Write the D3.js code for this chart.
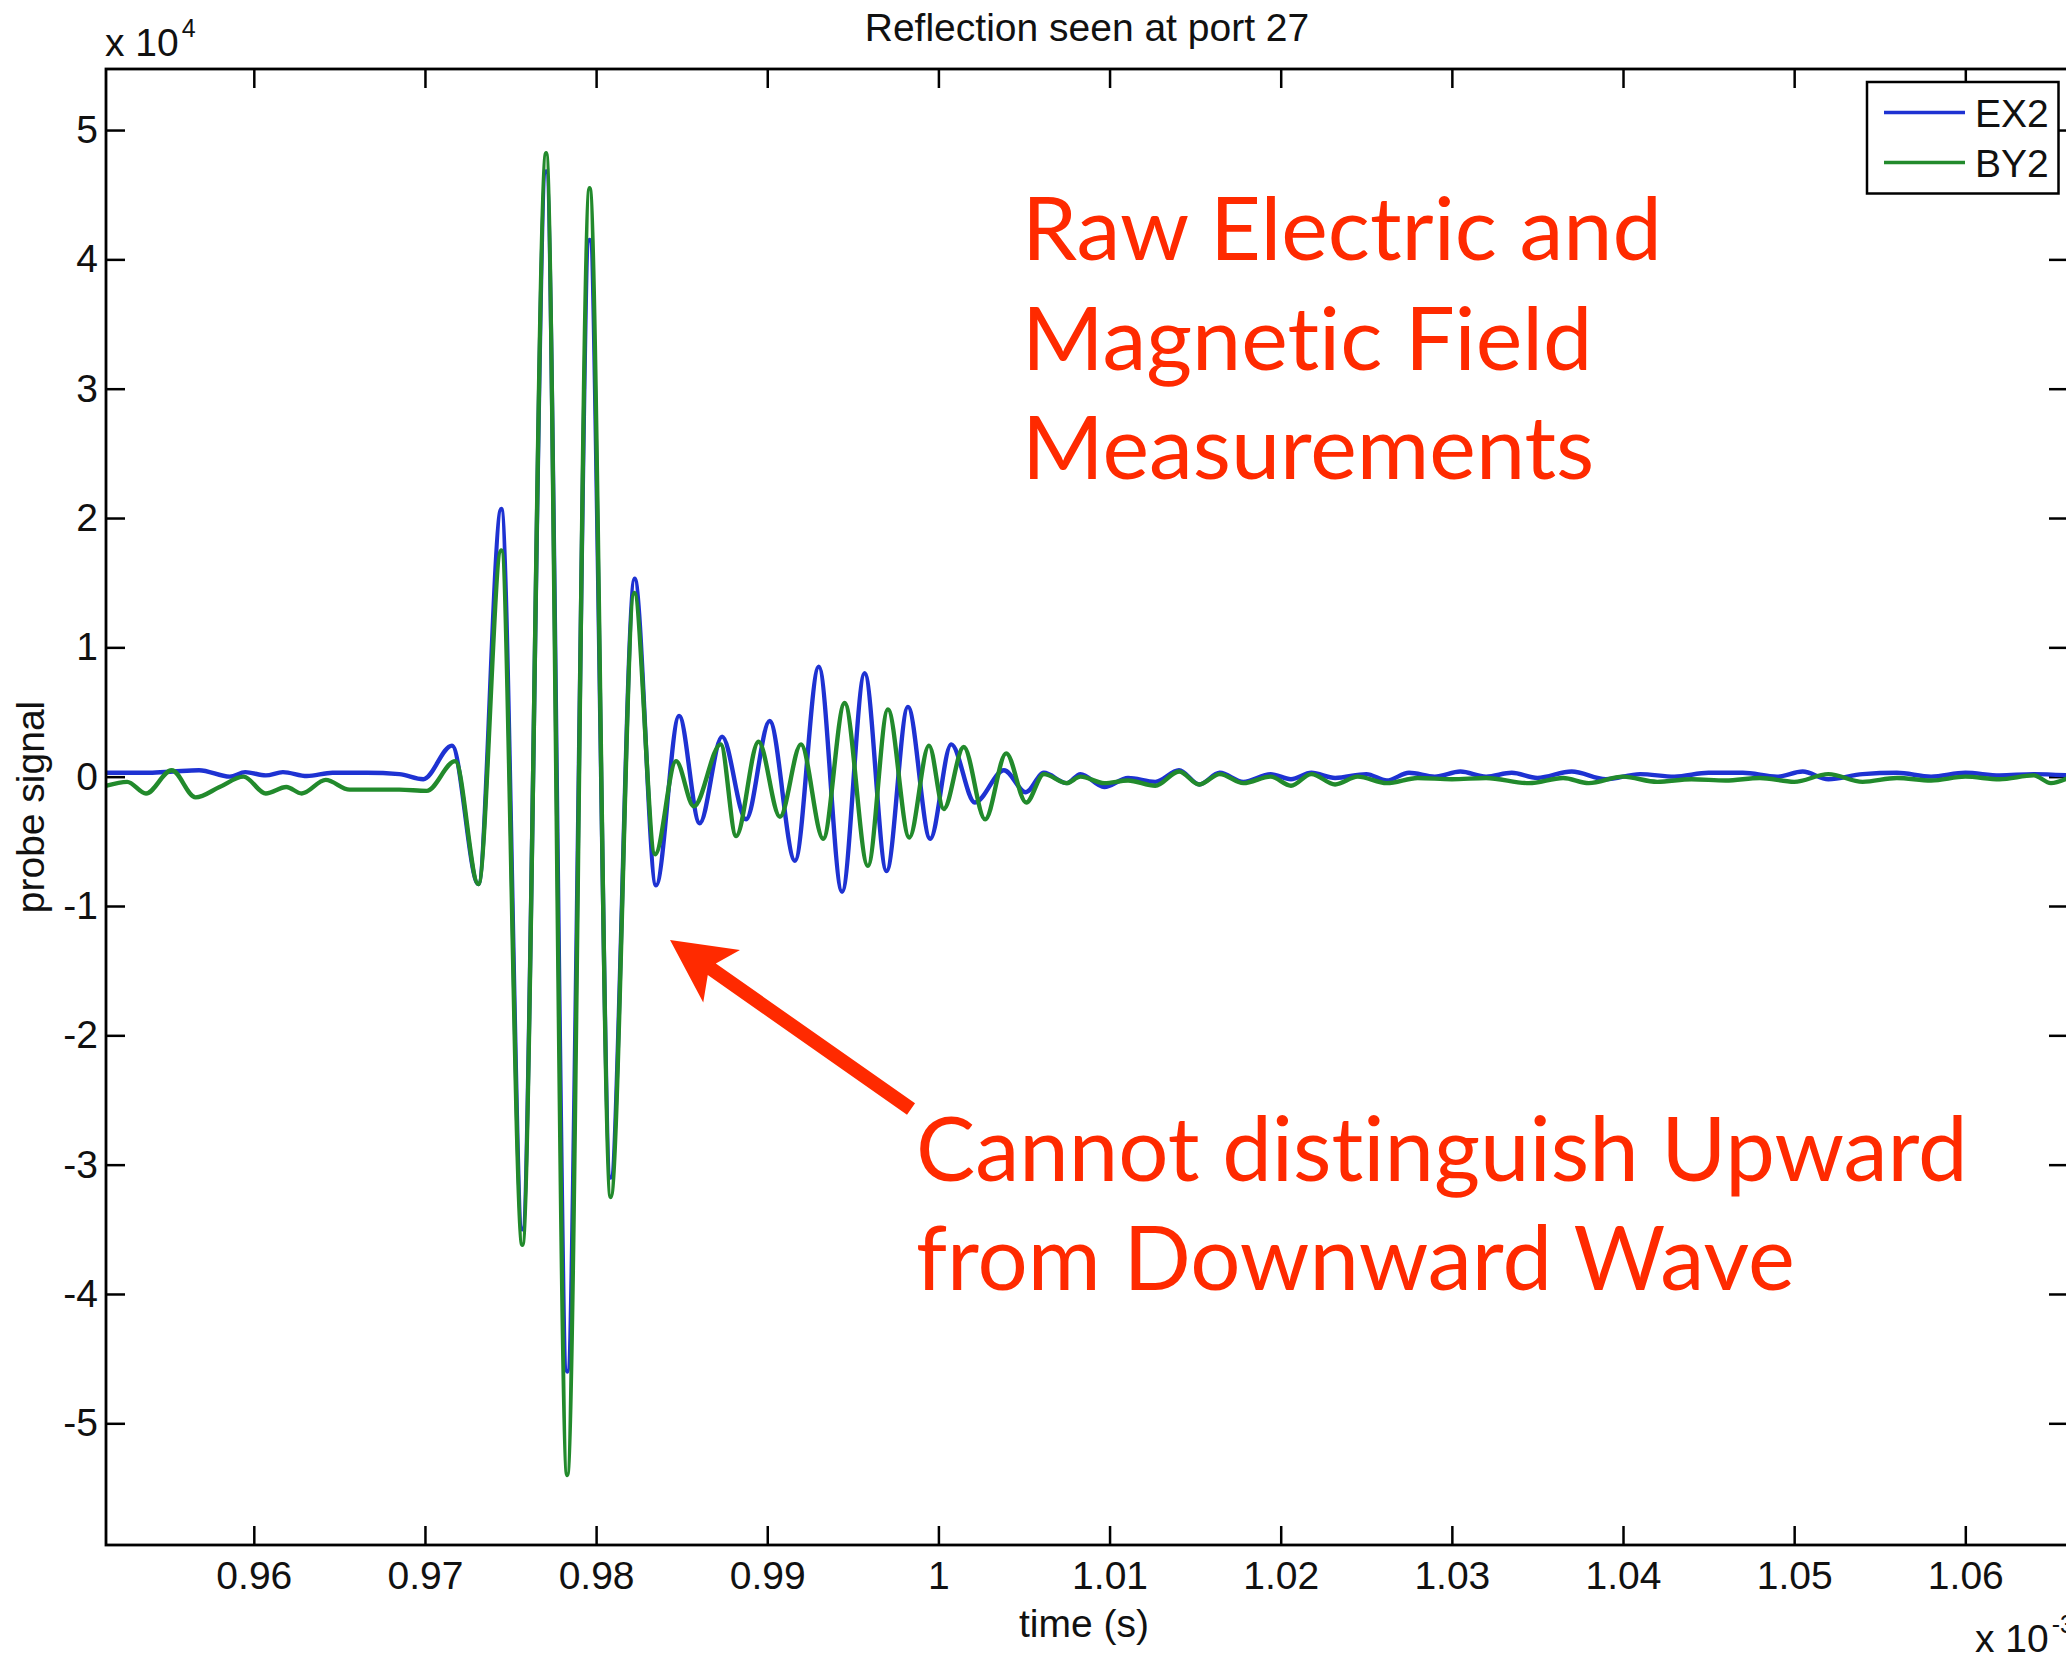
<!DOCTYPE html>
<html><head><meta charset="utf-8">
<script src="https://cdn.jsdelivr.net/npm/d3@7"></script>
<style>html,body{margin:0;padding:0;background:#fff}svg{display:block}text{font-variant-ligatures:none;font-feature-settings:"liga" 0,"clig" 0}</style>
</head><body>
<script>
// ---------- data (time in 10^-3 s, signal in 10^4) ----------
const xTickValues = [0.96,0.97,0.98,0.99,1.00,1.01,1.02,1.03,1.04,1.05,1.06];
const xTickLabels = ["0.96","0.97","0.98","0.99","1","1.01","1.02","1.03","1.04","1.05","1.06"];
const yTickValues = [-5,-4,-3,-2,-1,0,1,2,3,4,5];
const yTickLabels = ["-5","-4","-3","-2","-1","0","1","2","3","4","5"];
const seriesNames = ["EX2","BY2"];

const exTime = [0.9514,0.9525,0.9539,0.9553,0.9568,0.9586,0.9595,0.9607,0.9617,0.9631,0.9646,0.9666,0.9685,0.9699,
  0.97158,0.97312,0.97446,0.97569,0.97708,0.97831,0.97962,0.98085,0.98225,0.98350,0.98485,0.98605,0.98736,0.98876,
  0.99014,0.99162,0.99301,0.99437,0.99569,0.99697,0.99822,0.99952,1.00075,1.00213,1.00383,1.00511,1.00616,1.00750,
  1.00830,1.00969,1.01108,1.01267,1.01406,1.01524,1.01644,1.01782,1.01941,1.02060,1.02179,1.02318,1.0250,1.0262,
  1.0275,1.0290,1.0305,1.0320,1.0335,1.0350,1.0370,1.0390,1.0410,1.0430,1.0450,1.0470,1.0490,1.0505,1.0520,1.0540,
  1.0560,1.0580,1.0600,1.0620,1.0640,1.0660];
const exValue = [0.03,0.03,0.03,0.04,0.05,0.00,0.035,0.01,0.035,0.005,0.03,0.03,0.02,-0.02,
  0.24,-0.83,2.07,-3.50,4.68,-4.60,4.15,-3.10,1.53,-0.84,0.47,-0.36,0.31,-0.33,
  0.43,-0.65,0.85,-0.89,0.80,-0.73,0.54,-0.48,0.25,-0.20,0.05,-0.12,0.03,-0.05,
  0.02,-0.08,-0.01,-0.04,0.05,-0.06,0.03,-0.04,0.02,-0.02,0.03,-0.01,0.02,-0.03,
  0.03,0.00,0.04,0.00,0.03,-0.01,0.04,-0.02,0.02,0.00,0.03,0.03,0.00,0.04,-0.02,0.02,
  0.03,0.00,0.03,0.01,0.02,0.01];

const byTime = [0.9514,0.9526,0.9537,0.9552,0.9566,0.9580,0.9594,0.9607,0.9619,0.9628,0.9642,0.9656,0.9666,0.9685,0.9701,
  0.97177,0.97312,0.97446,0.97569,0.97708,0.97831,0.97962,0.98085,0.98223,0.98345,0.98467,0.98571,0.98728,0.98818,
  0.98949,0.99074,0.99197,0.99327,0.99452,0.99588,0.99705,0.99830,0.99945,1.00031,1.00148,1.00273,1.00396,1.00513,
  1.00616,1.00750,1.00830,1.00969,1.01108,1.01267,1.01406,1.01524,1.01644,1.01782,1.01941,1.02060,1.02179,1.02318,
  1.0245,1.0262,1.0280,1.0300,1.0320,1.0345,1.0365,1.0380,1.0400,1.0420,1.0440,1.0460,1.0480,1.0500,1.0520,1.0540,
  1.0560,1.0580,1.0600,1.0620,1.0640,1.0650,1.0660];
const byValue = [-0.07,-0.04,-0.13,0.05,-0.16,-0.08,0.00,-0.13,-0.08,-0.13,-0.025,-0.10,-0.10,-0.10,-0.11,
  0.12,-0.83,1.75,-3.62,4.82,-5.40,4.55,-3.25,1.42,-0.60,0.12,-0.23,0.25,-0.46,
  0.27,-0.31,0.25,-0.48,0.57,-0.69,0.52,-0.47,0.24,-0.25,0.23,-0.33,0.18,-0.20,
  0.02,-0.05,0.00,-0.05,-0.03,-0.07,0.04,-0.06,0.02,-0.05,0.00,-0.07,0.02,-0.06,
  0.00,-0.05,-0.01,-0.02,-0.01,-0.05,-0.01,-0.05,0.00,-0.04,-0.02,-0.03,-0.01,-0.04,0.02,-0.04,
  -0.01,-0.03,0.00,-0.02,0.01,-0.05,-0.01];

// annotation anchors (data coordinates)
const arrowTip = [0.98432, -1.263];
const arrowTail = [0.99840, -2.570];
const note1Lines = ["Raw Electric and","Magnetic Field","Measurements"];
const note1Anchor = [1.00488, [3.995, 3.144, 2.302]];
const note2Lines = ["Cannot distinguish Upward","from Downward Wave"];
const note2Anchor = [0.99869, [-3.127, -3.969]];

// ---------- layout & style ----------
const W = 2066, H = 1658;
const L = 106, T = 69, R = 2068, B = 1545;
const colors = ["#1e32d2", "#228a2c"];
const red = "#ff2a00";
const font = "'Liberation Sans', Arial, Helvetica, sans-serif";
const fs = 39;

const x = d3.scaleLinear().domain([0.951364, 1.066]).range([L, R]);
const y = d3.scaleLinear().domain([-5.941, 5.472]).range([B, T]);

const svg = d3.select("body").append("svg")
  .attr("width", W).attr("height", H)
  .style("font-family", font);

svg.append("rect").attr("width", W).attr("height", H).attr("fill", "#fff");

svg.append("defs").append("clipPath").attr("id", "clip")
  .append("rect").attr("x", L).attr("y", T).attr("width", R - L).attr("height", B - T);

// axes
function styleAxis(g, labels) {
  g.select(".domain").remove();
  g.selectAll(".tick line").attr("stroke", "#000").attr("stroke-width", 2.5);
  g.selectAll(".tick text").attr("fill", "#111").style("font-size", fs + "px").style("font-family", font);
  if (!labels) g.selectAll(".tick text").remove();
}
const tickLen = 19;
svg.append("g").attr("transform", `translate(0,${B})`)
  .call(d3.axisBottom(x).tickValues(xTickValues).tickFormat((d, i) => xTickLabels[i])
    .tickSizeInner(-tickLen).tickSizeOuter(0).tickPadding(16))
  .call(g => styleAxis(g, true));
svg.append("g").attr("transform", `translate(0,${T})`)
  .call(d3.axisTop(x).tickValues(xTickValues).tickSizeInner(-tickLen).tickSizeOuter(0))
  .call(g => styleAxis(g, false));
svg.append("g").attr("transform", `translate(${L},0)`)
  .call(d3.axisLeft(y).tickValues(yTickValues).tickFormat((d, i) => yTickLabels[i])
    .tickSizeInner(-tickLen).tickSizeOuter(0).tickPadding(8))
  .call(g => styleAxis(g, true));
svg.append("g").attr("transform", `translate(${R},0)`)
  .call(d3.axisRight(y).tickValues(yTickValues).tickSizeInner(-tickLen).tickSizeOuter(0))
  .call(g => styleAxis(g, false));

// series lines
const line = d3.line().x(d => x(d[0])).y(d => y(d[1])).curve(d3.curveMonotoneX);
const series = [d3.zip(exTime, exValue), d3.zip(byTime, byValue)];
const plotG = svg.append("g").attr("clip-path", "url(#clip)");
series.forEach((s, i) => {
  plotG.append("path").datum(s).attr("d", line)
    .attr("fill", "none").attr("stroke", colors[i]).attr("stroke-width", 4.4)
    .attr("stroke-linejoin", "round").attr("stroke-linecap", "round");
});

// frame
svg.append("rect").attr("x", L).attr("y", T).attr("width", R - L).attr("height", B - T)
  .attr("fill", "none").attr("stroke", "#000").attr("stroke-width", 2.8);

// title & labels
svg.append("text").attr("x", (L + R) / 2).attr("y", 41).attr("text-anchor", "middle")
  .style("font-size", fs + "px").attr("fill", "#111").text("Reflection seen at port 27");
svg.append("text").attr("x", 1084).attr("y", 1637).attr("text-anchor", "middle")
  .style("font-size", fs + "px").attr("fill", "#111").text("time (s)");
svg.append("text").attr("transform", "translate(44,807) rotate(-90)").attr("text-anchor", "middle")
  .style("font-size", fs + "px").attr("fill", "#111").text("probe signal");

// exponent labels
const e1 = svg.append("text").attr("x", 105).attr("y", 56).style("font-size", fs + "px").attr("fill", "#111");
e1.append("tspan").text("x 10");
e1.append("tspan").attr("dy", -19).attr("dx", 3).style("font-size", "25px").text("4");
const e2 = svg.append("text").attr("x", 1975).attr("y", 1652).style("font-size", fs + "px").attr("fill", "#111");
e2.append("tspan").text("x 10");
e2.append("tspan").attr("dy", -19).attr("dx", 3).style("font-size", "25px").text("-3");

// legend
const lg = svg.append("g");
lg.append("rect").attr("x", 1867).attr("y", 82).attr("width", 191.5).attr("height", 111.5)
  .attr("fill", "#fff").attr("stroke", "#000").attr("stroke-width", 2.5);
seriesNames.forEach((n, i) => {
  const yy = 112.5 + i * 50;
  lg.append("line").attr("x1", 1884).attr("x2", 1965).attr("y1", yy).attr("y2", yy)
    .attr("stroke", colors[i]).attr("stroke-width", 3.6);
  lg.append("text").attr("x", 1975).attr("y", yy + 14).style("font-size", fs + "px")
    .attr("fill", "#111").text(n);
});

// annotations
const annFont = "Lato, 'Open Sans', sans-serif";
function fitSize(str, target) {
  const t = svg.append("text").style("font-family", annFont).style("font-size", "100px").text(str);
  const w = t.node().getComputedTextLength();
  t.remove();
  return 100 * target / w;
}
function block(lines, anchor, size) {
  lines.forEach((s, i) => {
    svg.append("text").attr("x", x(anchor[0])).attr("y", y(anchor[1][i]))
      .style("font-family", annFont).style("font-size", size + "px").attr("fill", red).text(s);
  });
}
block(note1Lines, note1Anchor, fitSize(note1Lines[0], 640));
block(note2Lines, note2Anchor, fitSize(note2Lines[0], 1052));

// arrow
(function () {
  const P = [x(arrowTip[0]), y(arrowTip[1])], Q = [x(arrowTail[0]), y(arrowTail[1])];
  const dx = Q[0] - P[0], dy = Q[1] - P[1], len = Math.hypot(dx, dy);
  const u = [dx / len, dy / len], n = [-u[1], u[0]];
  const pt = (a, b) => [P[0] + u[0] * a + n[0] * b, P[1] + u[1] * a + n[1] * b];
  const hw = 7, headL = 63, headW = 32, notch = 51;
  const pts = [pt(0, 0), pt(headL, headW), pt(notch, hw), pt(len, hw), pt(len, -hw), pt(notch, -hw), pt(headL, -headW)];
  svg.append("path").attr("d", "M" + pts.map(p => p.join(",")).join("L") + "Z").attr("fill", red);
})();
</script>
</body></html>
